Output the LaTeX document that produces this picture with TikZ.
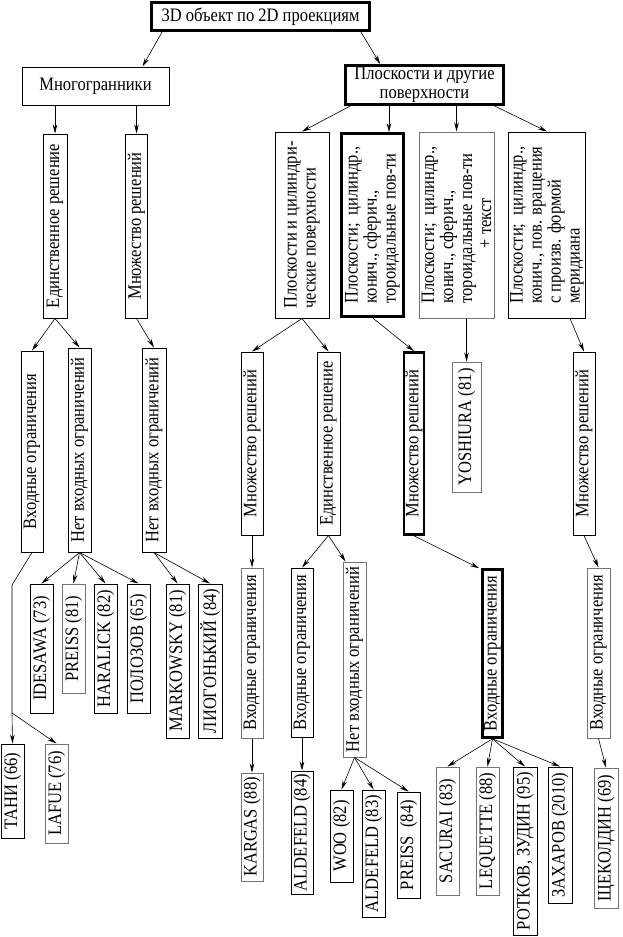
\documentclass[tikz,border=0pt]{standalone}
\usepackage{fontspec}
\setmainfont{Liberation Serif}[FakeStretch=0.87]
\usetikzlibrary{arrows.meta}

\begin{document}
\begin{tikzpicture}[
  x=1pt,
  y=-1pt,
  every node/.style={font=\fontsize{19}{19}\selectfont},
  hbox/.style={draw, line width=1pt, inner sep=2pt},
  vbox/.style={draw, rotate=90, line width=1pt, inner sep=1.5pt, minimum height=22pt},
  heavy/.style={line width=2.6pt},
  pale/.style={draw=black!55},
  arr/.style={line width=0.6pt, -{Stealth[length=9pt, width=4.5pt]}}
]

\useasboundingbox (0,0) rectangle (623,937);

% top levels
\node[hbox, heavy, minimum width=218pt, minimum height=28pt] (root) at (260.5,16.5) {3D объект по 2D проекциям};
\node[hbox, minimum width=147pt, minimum height=38pt] (poly) at (95.5,86) {Многогранники};
\node[hbox, heavy, align=center, minimum width=158pt, minimum height=37pt] (surf) at (424.5,85) {Плоскости и другие\\поверхности};

\node[vbox, minimum width=184pt, minimum height=24pt] (ed1) at (55,226) {Единственное решение};
\node[vbox, minimum width=184pt] (mn1) at (136.5,226) {Множество решений};
\node[vbox, align=left, minimum width=186pt, minimum height=54pt] (pc) at (302,225) {Плоскости и цилиндри-\\ческие поверхности};
\node[vbox, heavy, align=left, minimum width=183pt, minimum height=62pt] (sph) at (372.5,225) {Плоскости;~ цилиндр.,\\конич., сферич.,\\тороидальные пов-ти};
\node[vbox, pale, align=left, minimum width=186pt, minimum height=75pt] (txt) at (456.5,225) {Плоскости;~ цилиндр.,\\конич., сферич.,\\тороидальные пов-ти\\\hspace*{2.9em}+ текст};
\node[vbox, align=left, minimum width=186pt, minimum height=76pt] (rev) at (547,225) {Плоскости;~ цилиндр.,\\конич., пов. вращения\\с произв. формой\\меридиана};

% middle levels
\node[vbox, minimum width=201pt] (vo1) at (32,451.5) {Входные ограничения};
\node[vbox, minimum width=204pt, minimum height=23pt] (nvo1) at (79.5,450) {Нет входных ограничений};
\node[vbox, minimum width=204pt, minimum height=24pt] (nvo2) at (154,450) {Нет входных ограничений};
\node[vbox, minimum width=183pt] (mn2) at (252,443.5) {Множество решений};
\node[vbox, minimum width=183pt, minimum height=23pt] (ed2) at (328.5,443.5) {Единственное решение};
\node[vbox, heavy, minimum width=182pt, minimum height=20pt] (mn3) at (414,443.5) {Множество решений};
\node[vbox, pale, minimum width=130pt, minimum height=29pt] (yosh) at (466.5,427) {YOSHIURA (81)};
\node[vbox, minimum width=183pt] (mn4) at (584,443.5) {Множество решений};

\node[vbox, pale, minimum width=170pt] (vo2) at (252,653) {Входные ограничения};
\node[vbox, minimum width=169pt] (vo3) at (302,652.5) {Входные ограничения};
\node[vbox, pale, minimum width=195pt, minimum height=23pt] (nvo3) at (354.5,659.5) {Нет входных ограничений};
\node[vbox, heavy, minimum width=168pt, minimum height=20pt] (vo4) at (492.5,653.5) {Входные ограничения};
\node[vbox, pale, minimum width=170pt, minimum height=23pt] (vo5) at (598.5,653) {Входные ограничения};

% authors
\node[vbox, minimum width=129pt, minimum height=23pt] (idesawa) at (41.5,648.5) {IDESAWA (73)};
\node[vbox, pale, minimum width=109pt, minimum height=23pt] (preissA) at (73.5,638.5) {PREISS (81)};
\node[vbox, minimum width=129pt, minimum height=23pt] (haralick) at (105.5,648.5) {HARALICK (82)};
\node[vbox, minimum width=129pt, minimum height=23pt] (polozov) at (138.5,648.5) {ПОЛОЗОВ (65)};
\node[vbox, minimum width=154pt, minimum height=23pt] (markowsky) at (177.5,661) {MARKOWSKY (81)};
\node[vbox, minimum width=154pt, minimum height=24pt] (liogon) at (210,661) {ЛИОГОНЬКИЙ (84)};
\node[vbox, minimum width=94pt, minimum height=23pt] (tani) at (12.5,791) {ТАНИ (66)};
\node[vbox, pale, minimum width=99pt, minimum height=23pt] (lafue) at (56.5,793.5) {LAFUE (76)};
\node[vbox, pale, minimum width=108pt] (kargas) at (252,827) {KARGAS (88)};
\node[vbox, minimum width=123pt] (aldA) at (302,832.5) {ALDEFELD (84)};
\node[vbox, minimum width=92pt, minimum height=23pt] (woo) at (341.5,836) {WOO (82)};
\node[vbox, minimum width=127pt, minimum height=23pt] (aldB) at (373.5,853.5) {ALDEFELD (83)};
\node[vbox, minimum width=106pt, minimum height=23pt] (preissB) at (408.5,845) {PREISS~ (84)};
\node[vbox, pale, minimum width=128pt, minimum height=23pt] (sacurai) at (447.5,831) {SACURAI (83)};
\node[vbox, pale, minimum width=128pt, minimum height=23pt] (lequette) at (487.5,831) {LEQUETTE (88)};
\node[vbox, minimum width=168pt, minimum height=24pt] (rotkov) at (525,851) {РОТКОВ, ЗУДИН (95)};
\node[vbox, minimum width=136pt, minimum height=24pt] (zakharov) at (560,835) {ЗАХАРОВ (2010)};
\node[vbox, pale, minimum width=140pt, minimum height=24pt] (shch) at (606,838) {ЩЕКОЛДИН (69)};

\coordinate (sphin) at ([xshift=16.5pt]sph.east);
\coordinate (vbend) at (12,585);
\coordinate (vsplit) at (12,713);

% connectors
\draw[arr] ([xshift=12pt]root.south west) -- ([xshift=-27pt]poly.north east);
\draw[arr] ([xshift=-10pt]root.south east) -- ([xshift=36pt]surf.north west);

\draw[arr] (ed1.east |- poly.south) -- (ed1.east);
\draw[arr] (mn1.east |- poly.south) -- (mn1.east);

\draw[arr] ([xshift=6pt]surf.south west) -- (pc.east);
\draw[arr] (sphin |- surf.south) -- (sphin);
\draw[arr] (txt.east |- surf.south) -- (txt.east);
\draw[arr] ([xshift=-10pt]surf.south east) -- (rev.east);

\draw[arr] (ed1.west) -- (vo1.east);
\draw[arr] (ed1.west) -- (nvo1.east);
\draw[arr] (mn1.west) -- (nvo2.east);
\draw[arr] (pc.west) -- (mn2.east);
\draw[arr] (pc.west) -- (ed2.east);
\draw[arr] (sph.west) -- (mn3.east);
\draw[arr] (yosh.east |- txt.west) -- (yosh.east);
\draw[arr] ([xshift=23pt]rev.west) -- (mn4.east);

\draw[line width=0.6pt] (vo1.west) -- (vbend) -- (vsplit);
\draw[arr] (vsplit) -- (tani.east);
\draw[arr] (vsplit) -- (lafue.east);

\foreach \leaf in {idesawa, preissA, haralick, polozov}
  \draw[arr] (nvo1.west) -- (\leaf.east);
\foreach \leaf in {markowsky, liogon}
  \draw[arr] (nvo2.west) -- (\leaf.east);

\draw[arr] (mn2.west) -- (vo2.east);
\draw[arr] (vo2.west) -- (kargas.east);
\draw[arr] (ed2.west) -- (vo3.east);
\draw[arr] (ed2.west) -- ([xshift=3pt]nvo3.north east);
\draw[arr] (vo3.west) -- (aldA.east);
\foreach \leaf in {woo, aldB, preissB}
  \draw[arr] (nvo3.west) -- (\leaf.east);

\draw[arr] (mn3.west) -- ([xshift=-2pt]vo4.north east);
\foreach \leaf in {sacurai, lequette, rotkov, zakharov}
  \draw[arr] (vo4.west) -- (\leaf.east);

\draw[arr] (mn4.west) -- (vo5.east);
\draw[arr] (vo5.west) -- (shch.east);

\end{tikzpicture}
\end{document}
